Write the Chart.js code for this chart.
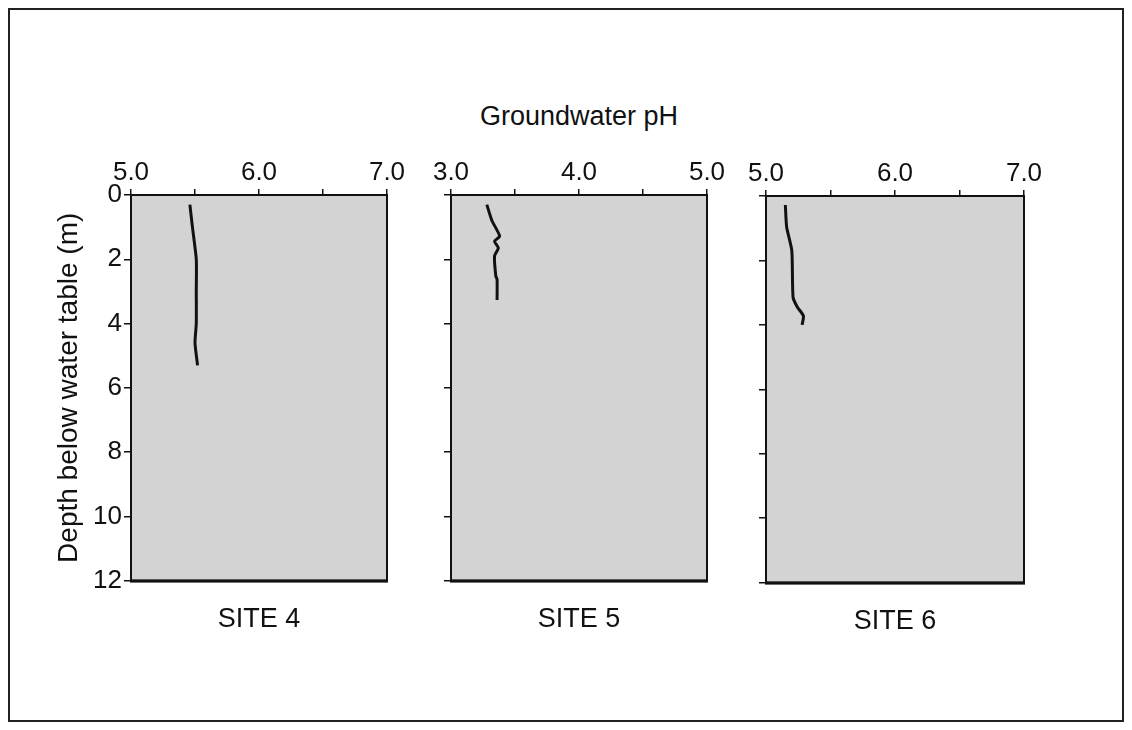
<!DOCTYPE html>
<html>
<head>
<meta charset="utf-8">
<script src="https://cdn.jsdelivr.net/npm/chart.js@4/dist/chart.umd.min.js"></script>
<style>
  body { margin: 0; background: #fff; width: 1132px; height: 730px; position: relative; overflow: hidden; }
  #frame { position: absolute; left: 8px; top: 8px; width: 1112px; height: 710px; border: 2px solid #222; }
  #heading { position: absolute; left: 379px; top: 101px; width: 400px; text-align: center;
             font: 27px "Liberation Sans", Arial, sans-serif; color: #111; }
  canvas { position: absolute; }
</style>
</head>
<body>
<div id="frame"></div>
<div id="heading">Groundwater pH</div>
<canvas id="site4"></canvas>
<canvas id="site5"></canvas>
<canvas id="site6"></canvas>
<script>
// depth below water table (m) and pH readings for each site
const site4Depth = [0.3, 1.0, 2.0, 3.0, 4.0, 4.6, 5.3];
const site4PH    = [5.46, 5.48, 5.51, 5.51, 5.51, 5.50, 5.52];

const site5Depth = [0.3, 0.8, 1.28, 1.44, 1.65, 1.9, 2.52, 2.63, 3.27];
const site5PH    = [3.28, 3.32, 3.38, 3.34, 3.37, 3.34, 3.35, 3.36, 3.36];

const site6Depth = [0.28, 0.96, 1.69, 3.15, 3.46, 3.72, 4.0];
const site6PH    = [5.15, 5.16, 5.20, 5.21, 5.245, 5.29, 5.28];

const siteNames = ["SITE 4", "SITE 5", "SITE 6"];
const phRanges = [[5, 7], [3, 5], [5, 7]];
const depthTicks = [0, 2, 4, 6, 8, 10, 12];

Chart.defaults.font.family = "'Liberation Sans', Arial, sans-serif";
Chart.defaults.color = "#111";

// grey plot background and black box round each panel
const panelBox = {
    id: "panelBox",
    beforeDraw(chart) {
        const a = chart.chartArea, ctx = chart.ctx;
        ctx.save();
        ctx.fillStyle = "#d3d3d3";
        ctx.fillRect(a.left, a.top, a.right - a.left, a.bottom - a.top);
        ctx.restore();
    },
    afterDraw(chart) {
        const a = chart.chartArea, ctx = chart.ctx;
        ctx.save();
        ctx.strokeStyle = "#111";
        ctx.lineWidth = 2;
        ctx.strokeRect(a.left, a.top, a.right - a.left, a.bottom - a.top);
        ctx.fillStyle = "#111";
        ctx.fillRect(a.left - 1, a.bottom - 1, a.right - a.left + 2, 3);
        ctx.restore();
    }
};

function makePanel(id, depth, ph, index, pos) {
    const canvas = document.getElementById(id);
    canvas.width = pos.w;
    canvas.height = pos.h;
    canvas.style.left = pos.x + "px";
    canvas.style.top = pos.y + "px";
    const first = index === 0;

    return new Chart(canvas.getContext("2d"), {
        type: "line",
        data: {
            datasets: [{
                data: ph.map((v, i) => ({ x: v, y: depth[i] })),
                borderColor: "#111",
                borderWidth: 3,
                pointRadius: 0,
                tension: 0.2,
                fill: false
            }]
        },
        options: {
            responsive: false,
            animation: false,
            layout: { padding: { right: 30 } },
            plugins: {
                legend: { display: false },
                tooltip: { enabled: false },
                title: {
                    display: true,
                    position: "bottom",
                    fullSize: false,
                    text: siteNames[index],
                    font: { size: 27, weight: "normal" },
                    color: "#111",
                    padding: { top: 23, bottom: 0 }
                }
            },
            scales: {
                x: {
                    type: "linear",
                    position: "top",
                    min: phRanges[index][0],
                    max: phRanges[index][1],
                    afterFit(scale) { scale.height = 55; },
                    border: { display: false },
                    grid: { drawOnChartArea: false, tickLength: 6, color: "#111", lineWidth: 1.5 },
                    ticks: {
                        stepSize: 0.5,
                        autoSkip: false,
                        maxRotation: 0,
                        padding: 1,
                        font: { size: 26 },
                        callback: v => (v % 1 === 0 ? v.toFixed(1) : "")
                    }
                },
                y: {
                    type: "linear",
                    reverse: true,
                    min: 0,
                    max: 12,
                    afterFit(scale) { scale.width = pos.yw; },
                    afterBuildTicks(scale) { scale.ticks = depthTicks.map(v => ({ value: v })); },
                    border: { display: false },
                    grid: { drawOnChartArea: false, tickLength: 7, color: "#111", lineWidth: 1.5 },
                    title: {
                        display: first,
                        text: "Depth below water table (m)",
                        font: { size: 28 },
                        color: "#111",
                        padding: { top: 2, bottom: 4 }
                    },
                    ticks: {
                        display: first,
                        padding: 2,
                        font: { size: 26 }
                    }
                }
            }
        },
        plugins: [panelBox]
    });
}

makePanel("site4", site4Depth, site4PH, 0, { x: 50, y: 140, w: 367, h: 496, yw: 81 });
makePanel("site5", site5Depth, site5PH, 1, { x: 411, y: 140, w: 326, h: 496, yw: 40 });
makePanel("site6", site6Depth, site6PH, 2, { x: 726, y: 141, w: 328, h: 497, yw: 40 });
</script>
</body>
</html>
